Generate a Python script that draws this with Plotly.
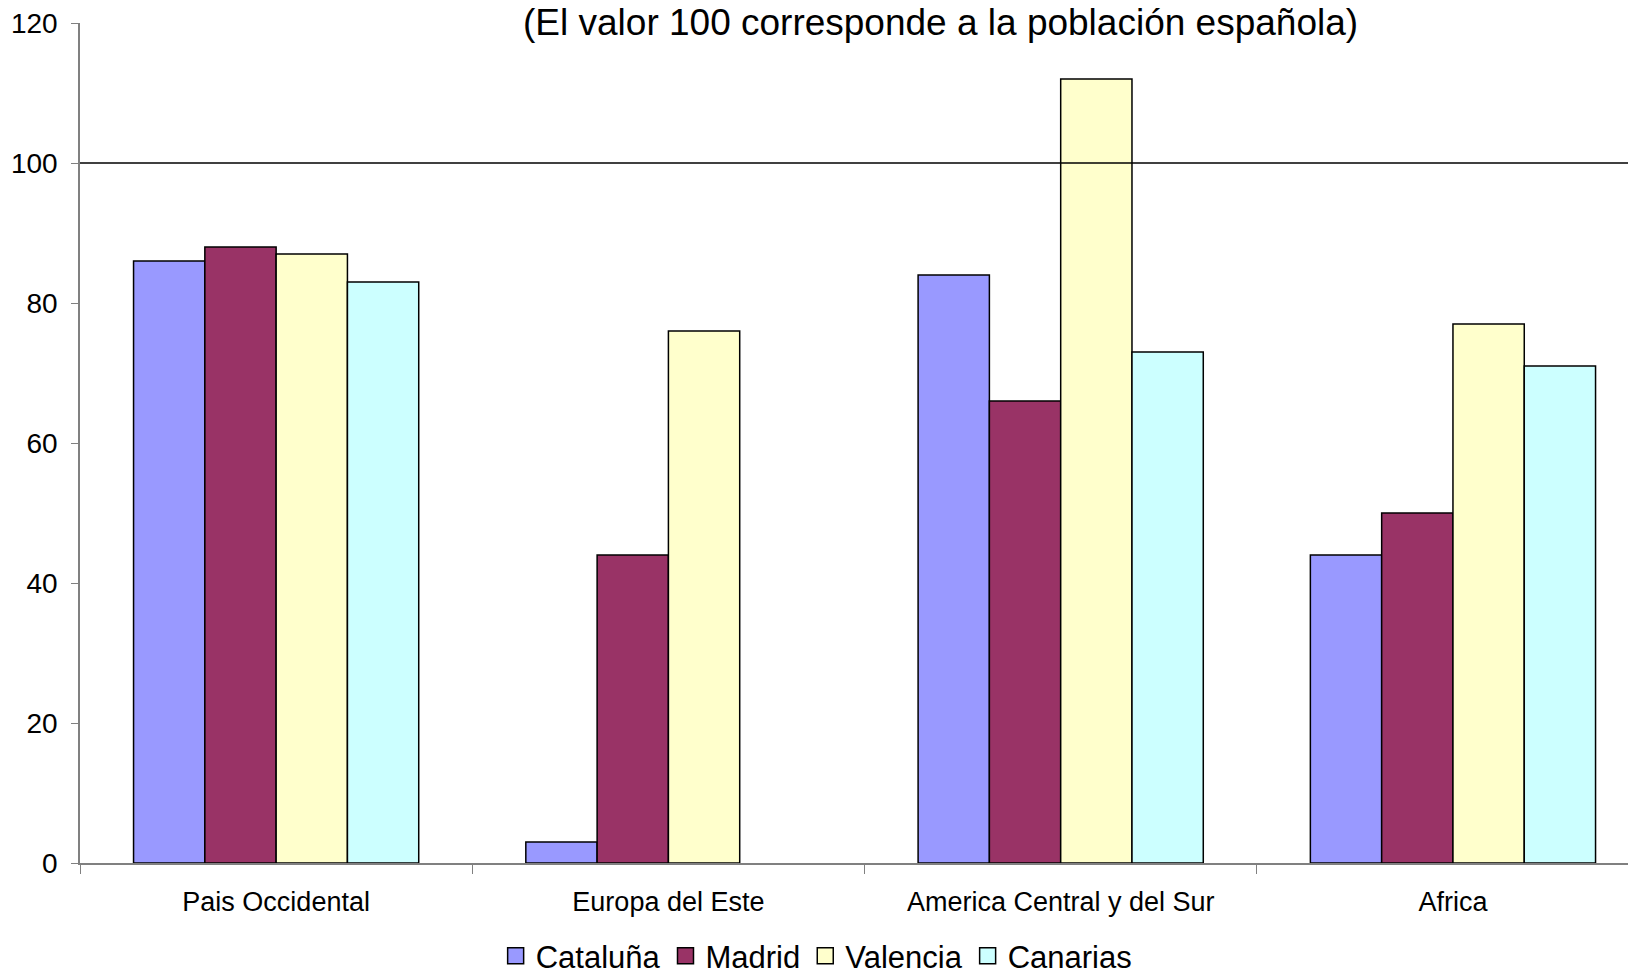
import plotly.graph_objects as go

categories = ['Pais Occidental', 'Europa del Este', 'America Central y del Sur', 'Africa']

cataluna = [86, 3, 84, 44]
madrid = [88, 44, 66, 50]
valencia = [87, 76, 112, 77]
canarias = [83, None, 73, 71]

series = [
    ('Cataluña', cataluna, '#9999FF'),
    ('Madrid', madrid, '#993366'),
    ('Valencia', valencia, '#FFFFCC'),
    ('Canarias', canarias, '#CCFFFF'),
]

FONT = 'Liberation Sans, Arial, sans-serif'

fig = go.Figure()
for name, vals, color in series:
    fig.add_trace(go.Bar(
        x=categories,
        y=vals,
        name=name,
        legendgroup=name,
        showlegend=False,
        marker=dict(color=color, line=dict(color='black', width=1.5)),
        hovertemplate='<b>%{x}</b><br>' + name + ': %{y}<extra></extra>'
    ))

# legend entries with bigger outlined squares (bar legend swatches are tiny)
for name, vals, color in series:
    fig.add_trace(go.Scatter(
        x=[None], y=[None],
        mode='markers',
        name=name,
        legendgroup=name,
        marker=dict(symbol='square', size=16, color=color,
                    line=dict(color='black', width=1.5)),
        hoverinfo='skip'
    ))

# reference line at 100 (Spanish population)
fig.add_shape(type='line', xref='paper', yref='y', x0=0, x1=1, y0=100, y1=100,
              line=dict(color='black', width=1.5))

fig.add_annotation(
    text='(El valor 100 corresponde a la población española)',
    xref='paper', yref='paper', x=0.5505, y=1.0, yanchor='middle', yshift=1,
    showarrow=False, font=dict(size=37, color='black', family=FONT)
)

# page body adds 8px margin, so margins are offset by -8
fig.update_layout(
    width=1636,
    height=972,
    margin=dict(l=72, r=0, t=15, b=117, autoexpand=False),
    plot_bgcolor='white',
    paper_bgcolor='white',
    font=dict(family=FONT, size=27, color='black'),
    barmode='group',
    bargap=0.273,
    bargroupgap=0,
    showlegend=True,
    legend=dict(
        orientation='h',
        x=0.471, xanchor='center',
        y=-0.1107, yanchor='middle',
        font=dict(size=31),
        itemwidth=30,
        itemsizing='trace',
        traceorder='normal'
    )
)

fig.update_xaxes(
    type='category',
    range=[-0.5, 3.487],
    showline=True, linecolor='#808080', linewidth=1.5,
    ticks='outside', tickson='boundaries', ticklen=9, tickcolor='#808080',
    tickfont=dict(size=27),
    ticklabelstandoff=14,
    showgrid=False, zeroline=False
)

fig.update_yaxes(
    range=[0, 120],
    dtick=20,
    showline=True, linecolor='#808080', linewidth=1.5,
    ticks='outside', ticklen=7, tickcolor='#808080',
    tickfont=dict(size=28),
    ticklabelstandoff=8,
    ticklabeloverflow='allow',
    showgrid=False, zeroline=False
)

fig.write_html('out.html')
